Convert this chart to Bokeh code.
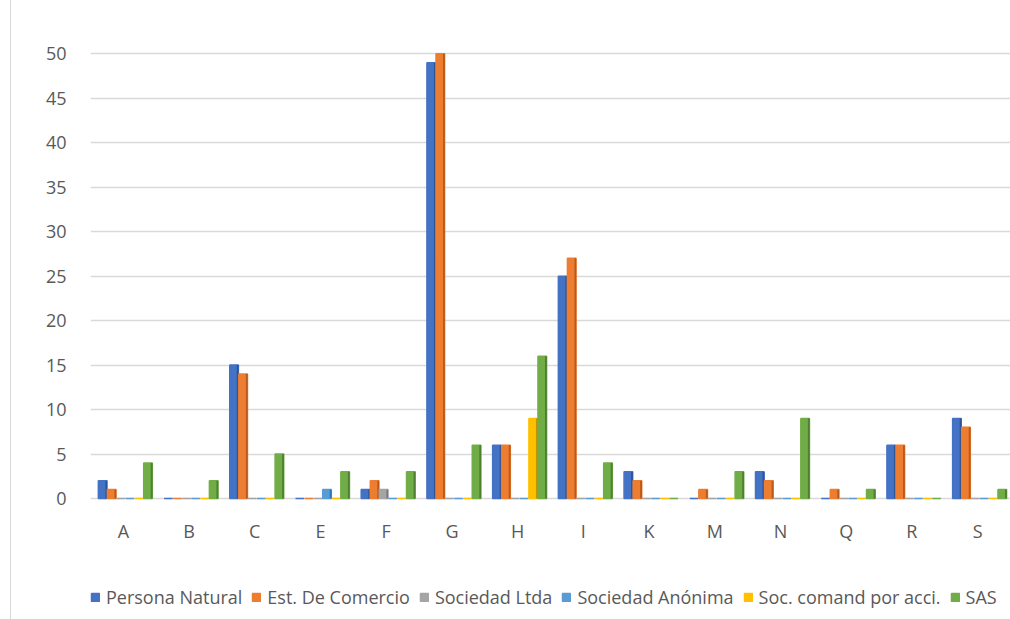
from bokeh.plotting import figure
from bokeh.models import FactorRange, Range1d, Legend, LegendItem, ColumnDataSource, FixedTicker
from bokeh.core.properties import value
from bokeh.transform import dodge
from bokeh.embed import file_html
from bokeh.resources import INLINE

categories = ["A", "B", "C", "E", "F", "G", "H", "I", "K", "M", "N", "Q", "R", "S"]
persona_natural = [2, 0, 15, 0, 1, 49, 6, 25, 3, 0, 3, 0, 6, 9]
est_comercio = [1, 0, 14, 0, 2, 50, 6, 27, 2, 1, 2, 1, 6, 8]
sociedad_ltda = [0, 0, 0, 0, 1, 0, 0, 0, 0, 0, 0, 0, 0, 0]
sociedad_anonima = [0, 0, 0, 1, 0, 0, 0, 0, 0, 0, 0, 0, 0, 0]
soc_comand = [0, 0, 0, 0, 0, 0, 9, 0, 0, 0, 0, 0, 0, 0]
sas = [4, 2, 5, 3, 3, 6, 16, 4, 0, 3, 9, 1, 0, 1]

series_names = ["Persona Natural", "Est. De Comercio", "Sociedad Ltda",
                "Sociedad Anónima", "Soc. comand por acci.", "SAS"]
series_values = [persona_natural, est_comercio, sociedad_ltda,
                 sociedad_anonima, soc_comand, sas]
colors = ["#4472C4", "#ED7D31", "#A5A5A5", "#5B9BD5", "#FFC000", "#70AD47"]
dark = ["#2F5597", "#B85A1B", "#7B7B7B", "#2E75B6", "#BF9000", "#507E32"]
yticks = [0, 5, 10, 15, 20, 25, 30, 35, 40, 45, 50]

FONT = "Open Sans"
TXT = "#595959"

# the frame reaches below zero so the category labels and legend sit inside it
Y_MIN, Y_MAX = -13.6, 52.5
LABEL_Y = -3.6

p = figure(x_range=FactorRange(factors=categories), y_range=Range1d(Y_MIN, Y_MAX),
           frame_width=920, frame_height=588, output_backend="svg", toolbar_location=None,
           min_border_left=79, min_border_right=0, min_border_top=31, min_border_bottom=0)
p.styles = {"border-left": "1px solid #D9D9D9", "margin-left": "10px"}
p.outline_line_color = None
p.xgrid.grid_line_color = None
p.ygrid.grid_line_color = "#D9D9D9"
p.ygrid.grid_line_width = 1.3
p.xaxis.visible = False

p.yaxis.ticker = FixedTicker(ticks=yticks)
ax = p.yaxis[0]
ax.axis_line_color = None
ax.major_tick_line_color = None
ax.minor_tick_line_color = None
ax.major_label_text_font = FONT
ax.major_label_text_font_size = "18px"
ax.major_label_text_color = TXT
ax.major_label_standoff = 18

src = ColumnDataSource(dict(cat=categories, **{f"s{i}": v for i, v in enumerate(series_values)}))

step = 0.138
items = []
for i, (name, col, dk) in enumerate(zip(series_names, colors, dark)):
    off = (i - 2.5) * step + 0.03
    r = p.vbar(x=dodge("cat", off, range=p.x_range), top=f"s{i}", bottom=0, width=step * 0.95,
               source=src, fill_color=col, line_color=col, line_width=1.5)
    p.vbar(x=dodge("cat", off + step * 0.4, range=p.x_range), top=f"s{i}", bottom=0,
           width=step * 0.2, source=src, fill_color=dk, line_color=None)
    items.append(LegendItem(label=name, renderers=[r]))

# category labels
p.text(x=categories, y=[LABEL_Y] * len(categories), text=categories,
       text_font=value(FONT), text_font_size="18px", text_color=TXT,
       text_align="center", text_baseline="middle")

legend = Legend(items=items, orientation="horizontal", location=(0, 10),
                label_text_font=FONT, label_text_font_size="18px", label_text_color=TXT,
                glyph_width=10, glyph_height=10, label_standoff=6, spacing=9,
                border_line_color=None, background_fill_alpha=0, padding=0, margin=0)
p.add_layout(legend, "center")

open("out.html", "w").write(file_html(p, INLINE))
